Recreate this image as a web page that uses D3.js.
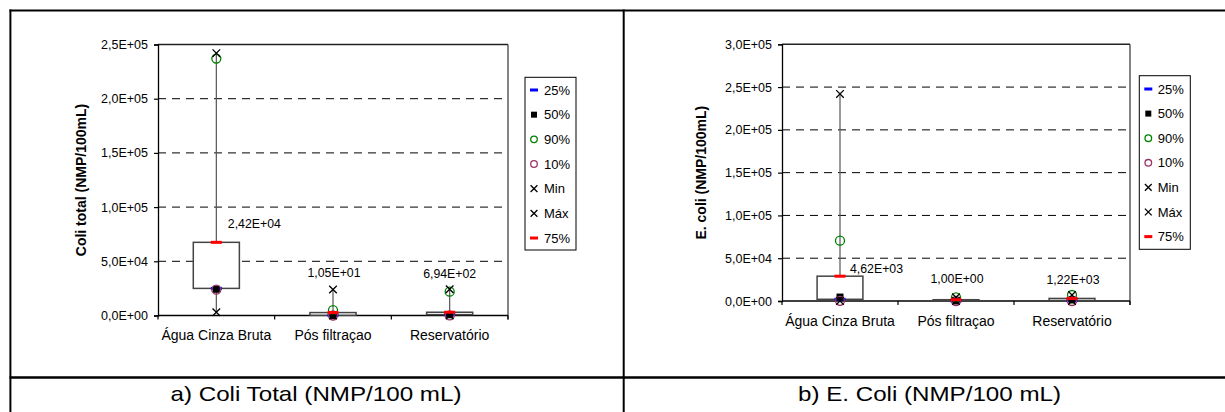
<!DOCTYPE html>
<html><head><meta charset="utf-8">
<script src="https://cdn.jsdelivr.net/npm/d3@7"></script>
<style>
body{margin:0;background:#fff}
svg{display:block;font-family:"Liberation Sans",Arial,sans-serif}
</style>
</head><body>
<svg id="chart" width="1225" height="412"></svg>
<script>
// ---------- DATA ----------
const categories = ["Água Cinza Bruta", "Pós filtraçao", "Reservatório"];
const seriesNames = ["25%", "50%", "90%", "10%", "Min", "Máx", "75%"];

// a) Coli total (NMP/100mL)
const coliP25 = [25000, 200, 800];
const coliP50 = [24200, 10.5, 694];
const coliP90 = [237000, 5000, 22000];
const coliP10 = [23800, 5, 50];
const coliMin = [3000, 1, 1];
const coliMax = [242000, 24000, 24200];
const coliP75 = [67500, 2700, 3000];
const coliTicks = [0, 50000, 100000, 150000, 200000, 250000];

// b) E. coli (NMP/100mL)
const ecoliP25 = [2000, 100, 500];
const ecoliP50 = [4620, 1, 1220];
const ecoliP90 = [70500, 4300, 7000];
const ecoliP10 = [200, 1, 1];
const ecoliMin = [100, 0, 0];
const ecoliMax = [242000, 4300, 7000];
const ecoliP75 = [29000, 1500, 3000];
const ecoliTicks = [0, 50000, 100000, 150000, 200000, 250000, 300000];

const yTitles = ["Coli total (NMP/100mL)", "E. coli (NMP/100mL)"];
const captions = ["a) Coli Total (NMP/100 mL)", "b) E. Coli (NMP/100 mL)"];

// ---------- STYLE / LAYOUT ----------
const seriesStyle = [
  {type: "dash", color: "#0000FF"},
  {type: "square", color: "#000000"},
  {type: "circle", color: "#008000"},
  {type: "circle", color: "#993366"},
  {type: "x", color: "#000000"},
  {type: "x", color: "#000000"},
  {type: "dash", color: "#FF0000"}
];

const panels = [
  {
    series: [coliP25, coliP50, coliP90, coliP10, coliMin, coliMax, coliP75],
    ticks: coliTicks, x0: 158, x1: 508, y0: 315.5, y1: 44.5,
    title: yTitles[0], titleX: 86,
    legend: {x: 525, y: 77.3, w: 51, h: 172.7, item0: 90, step: 24.67, mx: 534, tx: 544},
    labelOff: [[38, -14.5], [1, -36], [0, -34]],
    caption: captions[0], capX: 316, capW: 291
  },
  {
    series: [ecoliP25, ecoliP50, ecoliP90, ecoliP10, ecoliMin, ecoliMax, ecoliP75],
    ticks: ecoliTicks, x0: 782, x1: 1130, y0: 301, y1: 44.3,
    title: yTitles[1], titleX: 705.5,
    legend: {x: 1139.3, y: 75.7, w: 51, h: 173.6, item0: 89, step: 24.6, mx: 1148.3, tx: 1157.7},
    labelOff: [[36.5, -3], [1, -16.7], [1, -14]],
    caption: captions[1], capX: 929.5, capW: 263
  }
];

function fmtE(v, d) {
  const parts = v.toExponential(d).split("e");
  const e = +parts[1];
  return parts[0].replace(".", ",") + "E" + (e < 0 ? "-" : "+") + String(Math.abs(e)).padStart(2, "0");
}

const svg = d3.select("#chart");

function drawMarker(g, type, color, cx, cy, big) {
  if (type === "dash") {
    const w = big ? 11 : 8, h = 3;
    g.append("rect").attr("x", cx - w / 2).attr("y", cy - h / 2).attr("width", w).attr("height", h).attr("fill", color);
  } else if (type === "square") {
    const s = big ? 7 : 6;
    g.append("rect").attr("x", cx - s / 2).attr("y", cy - s / 2).attr("width", s).attr("height", s).attr("fill", color);
  } else if (type === "circle") {
    g.append("circle").attr("cx", cx).attr("cy", cy).attr("r", big ? 4.5 : 3.3)
      .attr("fill", "none").attr("stroke", color).attr("stroke-width", 1.3);
  } else if (type === "x") {
    const s = big ? 3.8 : 3.4;
    g.append("path").attr("d", `M${cx - s},${cy - s}L${cx + s},${cy + s}M${cx - s},${cy + s}L${cx + s},${cy - s}`)
      .attr("stroke", color).attr("stroke-width", 1.3).attr("fill", "none");
  }
}

panels.forEach(p => {
  const g = svg.append("g");
  const maxV = p.ticks[p.ticks.length - 1];
  const y = d3.scaleLinear().domain([0, maxV]).range([p.y0, p.y1]);
  const x = d3.scaleBand().domain(categories).range([p.x0, p.x1]);
  const bw = x.bandwidth() * 0.395;
  const cx = c => x(c) + x.bandwidth() / 2;

  // gridlines
  g.selectAll("line.grid").data(p.ticks.filter(t => t > 0 && t < maxV)).join("line")
    .attr("x1", p.x0).attr("x2", p.x1).attr("y1", d => y(d)).attr("y2", d => y(d))
    .attr("stroke", "#000").attr("stroke-width", 1).attr("stroke-dasharray", "8,6");
  // plot frame top / right
  g.append("line").attr("x1", p.x0).attr("x2", p.x1).attr("y1", y(maxV)).attr("y2", y(maxV))
    .attr("stroke", "#222").attr("stroke-width", 1.4);
  g.append("line").attr("x1", p.x1).attr("x2", p.x1).attr("y1", y(maxV)).attr("y2", p.y0 + 4)
    .attr("stroke", "#333").attr("stroke-width", 1.2);

  // y axis
  const yAxis = d3.axisLeft(y).tickValues(p.ticks).tickSize(4).tickPadding(6).tickFormat(d => fmtE(d, 1));
  const ya = g.append("g").attr("transform", `translate(${p.x0},0)`).call(yAxis);
  ya.select(".domain").attr("stroke", "#000").attr("stroke-width", 1.3);
  ya.selectAll(".tick line").attr("stroke", "#000").attr("stroke-width", 1.2);
  ya.selectAll(".tick text").attr("font-size", 12.5).attr("fill", "#000")
    .attr("font-family", '"Liberation Sans",Arial,sans-serif');

  // x axis
  const xa = g.append("g").attr("transform", `translate(0,${p.y0})`);
  xa.append("line").attr("x1", p.x0).attr("x2", p.x1).attr("stroke", "#000").attr("stroke-width", 1.4);
  const bounds = categories.map(c => x(c)).concat([p.x1]);
  xa.selectAll("line.xt").data(bounds).join("line").attr("class", "xt")
    .attr("x1", d => d).attr("x2", d => d).attr("y1", 0).attr("y2", 4)
    .attr("stroke", "#000").attr("stroke-width", 1.2);
  xa.selectAll("text").data(categories).join("text")
    .attr("x", d => cx(d)).attr("y", 24.5).attr("text-anchor", "middle")
    .attr("font-size", 14).attr("fill", "#000").text(d => d);

  // y title
  g.append("text").attr("transform", `translate(${p.titleX},${(p.y0 + p.y1) / 2}) rotate(-90)`)
    .attr("text-anchor", "middle").attr("font-size", 14).attr("font-weight", "bold")
    .attr("fill", "#000").text(p.title);

  const [p25, p50, p90, p10, mn, mx, p75] = p.series;

  // whiskers
  g.selectAll("line.wh").data(categories).join("line").attr("class", "wh")
    .attr("x1", d => cx(d)).attr("x2", d => cx(d))
    .attr("y1", (d, i) => y(mn[i])).attr("y2", (d, i) => y(mx[i]))
    .attr("stroke", "#555").attr("stroke-width", 1.2);
  // boxes
  g.selectAll("rect.box").data(categories).join("rect").attr("class", "box")
    .attr("x", d => cx(d) - bw / 2).attr("width", bw)
    .attr("y", (d, i) => y(Math.max(p25[i], p75[i])))
    .attr("height", (d, i) => Math.abs(y(p25[i]) - y(p75[i])))
    .attr("fill", "#fff").attr("stroke", "#444").attr("stroke-width", 1.5);

  // markers in series order
  p.series.forEach((vals, si) => {
    const st = seriesStyle[si];
    const mg = g.append("g");
    vals.forEach((v, i) => drawMarker(mg, st.type, st.color, cx(categories[i]), y(v), true));
  });

  // data labels (median)
  g.selectAll("text.lbl").data(categories).join("text").attr("class", "lbl")
    .attr("x", (d, i) => cx(d) + p.labelOff[i][0])
    .attr("y", (d, i) => y(p75[i]) + p.labelOff[i][1])
    .attr("text-anchor", "middle").attr("font-size", 12.3).attr("fill", "#000")
    .text((d, i) => fmtE(p50[i], 2));

  // legend
  const L = p.legend;
  g.append("rect").attr("x", L.x).attr("y", L.y).attr("width", L.w).attr("height", L.h)
    .attr("fill", "#fff").attr("stroke", "#000").attr("stroke-width", 1);
  seriesNames.forEach((n, si) => {
    const yy = L.item0 + si * L.step;
    drawMarker(g, seriesStyle[si].type, seriesStyle[si].color, L.mx, yy, false);
    g.append("text").attr("x", L.tx).attr("y", yy + 4.6).attr("font-size", 13)
      .attr("fill", "#000").text(n);
  });

  // caption
  svg.append("text").attr("x", p.capX).attr("y", 401).attr("text-anchor", "middle")
    .attr("font-size", 21).attr("fill", "#000")
    .attr("textLength", p.capW).attr("lengthAdjust", "spacingAndGlyphs").text(p.caption);
});

// table borders
const border = svg.append("g").attr("stroke", "#000").attr("fill", "none");
border.append("line").attr("x1", 9.5).attr("x2", 1225).attr("y1", 10.6).attr("y2", 10.6).attr("stroke-width", 2);
border.append("line").attr("x1", 10.4).attr("x2", 10.4).attr("y1", 9.6).attr("y2", 412).attr("stroke-width", 2);
border.append("line").attr("x1", 623.7).attr("x2", 623.7).attr("y1", 9.6).attr("y2", 412).attr("stroke-width", 2);
border.append("line").attr("x1", 9.5).attr("x2", 1225).attr("y1", 377.4).attr("y2", 377.4).attr("stroke-width", 2.5);
</script>
</body></html>
